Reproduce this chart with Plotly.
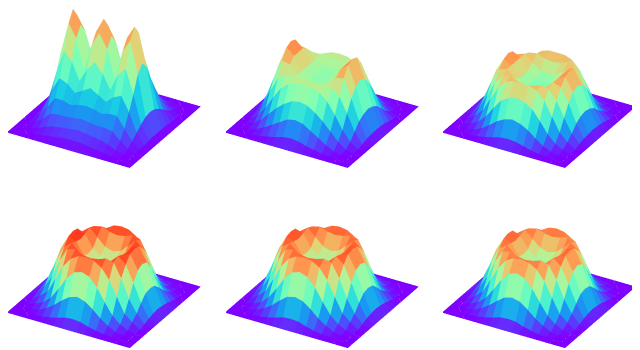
import plotly.graph_objects as go

# Grid positions shared by every panel
x_vals = [-1, -0.875, -0.75, -0.625, -0.5, -0.375, -0.25, -0.125, 0, 0.125, 0.25, 0.375, 0.5, 0.625, 0.75, 0.875, 1]
y_vals = [1, 0.875, 0.75, 0.625, 0.5, 0.375, 0.25, 0.125, 0, -0.125, -0.25, -0.375, -0.5, -0.625, -0.75, -0.875, -1]

# Each surface looks mirror-symmetric in x and y, so one quadrant is kept, centre first.
quadrant1 = [
    [87,74,44,76,88,58,18,2,0],
    [78,66,42,68,79,52,17,2,0],
    [56,48,36,51,58,38,14,2,0],
    [37,33,29,35,38,26,10,1,0],
    [25,24,22,24,24,15,6,1,0],
    [17,16,15,15,14,8,3,0,0],
    [11,10,9,8,6,3,1,0,0],
    [5,5,4,3,2,1,0,0,0],
    [0,0,0,0,0,0,0,0,0],
]
quadrant2 = [
    [52,53,60,76,87,64,30,6,0],
    [53,54,60,76,84,60,28,6,0],
    [55,56,60,70,72,50,24,5,0],
    [62,62,62,62,54,36,16,3,0],
    [63,62,58,50,36,20,8,1,0],
    [46,44,38,30,20,10,3,0,0],
    [28,26,20,14,8,3,1,0,0],
    [10,9,6,4,2,1,0,0,0],
    [0,0,0,0,0,0,0,0,0],
]
quadrant3 = [
    [48,50,58,76,85,66,32,8,0],
    [50,52,60,76,82,62,30,7,0],
    [55,58,66,76,72,52,25,6,0],
    [68,70,74,72,58,36,16,4,0],
    [76,76,72,60,40,20,9,1,0],
    [60,57,50,36,20,9,3,0,0],
    [34,31,25,16,8,3,1,0,0],
    [11,10,7,4,2,1,0,0,0],
    [0,0,0,0,0,0,0,0,0],
]
quadrant4 = [
    [58,60,68,88,97,76,40,10,0],
    [60,62,70,90,95,72,38,9,0],
    [66,70,82,94,84,58,29,7,0],
    [86,88,93,90,68,38,18,4,0],
    [94,92,84,68,44,20,10,1,0],
    [76,72,58,38,20,9,3,0,0],
    [42,38,29,18,9,3,1,0,0],
    [12,11,7,4,2,1,0,0,0],
    [0,0,0,0,0,0,0,0,0],
]
quadrant5 = [
    [56,58,66,85,93,73,39,10,0],
    [58,60,68,87,91,69,37,9,0],
    [64,68,79,90,81,56,28,7,0],
    [83,85,89,86,65,37,17,4,0],
    [90,88,81,65,42,20,10,1,0],
    [73,69,56,37,20,9,3,0,0],
    [40,37,28,17,9,3,1,0,0],
    [12,11,7,4,2,1,0,0,0],
    [0,0,0,0,0,0,0,0,0],
]
quadrant6 = [
    [54,56,64,82,90,71,38,10,0],
    [56,58,66,84,88,67,36,9,0],
    [62,66,76,87,78,54,27,7,0],
    [80,82,86,83,63,36,17,4,0],
    [87,85,78,63,41,19,9,1,0],
    [71,67,54,36,19,9,3,0,0],
    [39,36,27,17,9,3,1,0,0],
    [12,11,7,4,2,1,0,0,0],
    [0,0,0,0,0,0,0,0,0],
]

rainbow = [
    [0.0, "#8000ff"], [0.1, "#4d4ffc"], [0.2, "#1a96f2"], [0.3, "#19cfe3"], [0.4, "#4df3ce"],
    [0.5, "#80ffb4"], [0.6, "#b3f396"], [0.7, "#e6cf73"], [0.8, "#ff964f"], [0.9, "#ff4f28"], [1.0, "#ff0000"],
]


def unfold(q):
    half = [row[:0:-1] + row for row in q]
    return half[:0:-1] + half


def facets(z):
    """Vertices, triangles and one flat colour per quad of a gridded surface."""
    nx, ny = len(x_vals), len(y_vals)
    vx, vy, vz, ti, tj, tk, shade = [], [], [], [], [], [], []
    for r in range(ny):
        for c in range(nx):
            vx.append(x_vals[c]); vy.append(y_vals[r]); vz.append(z[r][c] / 100)
    for r in range(ny - 1):
        for c in range(nx - 1):
            a, b, d, e = r * nx + c, r * nx + c + 1, (r + 1) * nx + c, (r + 1) * nx + c + 1
            mean = (z[r][c] + z[r][c + 1] + z[r + 1][c] + z[r + 1][c + 1]) / 400
            ti += [a, a]; tj += [b, e]; tk += [e, d]; shade += [mean, mean]
    return vx, vy, vz, ti, tj, tk, shade


panels = [unfold(q) for q in (quadrant1, quadrant2, quadrant3, quadrant4, quadrant5, quadrant6)]
z_aspects = [0.94, 0.65, 0.55, 0.5, 0.52, 0.52]

EYE = 1.6
SCALE = 1.625
ROW_SHIFT = [0.316, 0.384]
SIDE_X, SIDE_Y = 0.086, 0.05
fig = go.Figure()
layout = dict(width=640, height=350, margin=dict(l=0, r=0, t=0, b=0), paper_bgcolor="white", showlegend=False)
domains_x = [(0, 209), (217.5, 426.5), (435, 640)]
side_factor = [1, 1, 0.75]
for n, z in enumerate(panels):
    name = "scene" if n == 0 else f"scene{n + 1}"
    col, row = n % 3, n // 3
    vx, vy, vz, ti, tj, tk, shade = facets(z)
    fig.add_trace(go.Mesh3d(
        x=vx, y=vy, z=vz, i=ti, j=tj, k=tk,
        intensity=shade, intensitymode="cell",
        colorscale=rainbow, cmin=0, cmax=1, showscale=False, hoverinfo="skip",
        flatshading=True,
        lighting=dict(ambient=1, diffuse=0, specular=0, roughness=1, fresnel=0),
        scene=name,
    ))
    a = z_aspects[n] * SCALE
    top = 0 if row == 0 else 175
    cz = -a / 2 + ROW_SHIFT[row]
    sx, sy = SIDE_X * side_factor[col], SIDE_Y * side_factor[col]
    ax = dict(visible=False, showspikes=False)
    layout[name] = dict(
        domain=dict(x=[domains_x[col][0] / 640, domains_x[col][1] / 640],
                    y=[1 - (top + 175) / 350, 1 - top / 350]),
        xaxis=dict(range=[-1, 1], **ax), yaxis=dict(range=[-1, 1], **ax), zaxis=dict(range=[0, 1], **ax),
        aspectmode="manual", aspectratio=dict(x=SCALE, y=SCALE, z=a),
        camera=dict(projection=dict(type="orthographic"),
                    center=dict(x=sx, y=sy, z=cz),
                    eye=dict(x=sx + 0.433 * EYE, y=sy - 0.75 * EYE, z=cz + 0.5 * EYE)),
    )
fig.update_layout(**layout)
fig.write_html("out.html")
